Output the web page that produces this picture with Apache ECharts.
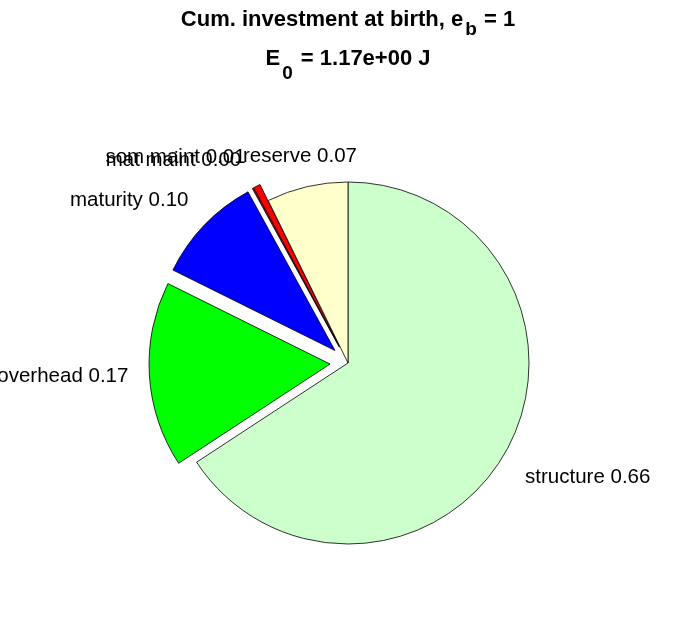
<!DOCTYPE html>
<html>
<head>
<meta charset="utf-8">
<script src="https://cdn.jsdelivr.net/npm/echarts@6/dist/echarts.min.js"></script>
<style>
html,body{margin:0;padding:0;background:#fff;}
#c{width:696px;height:618px;}
</style>
</head>
<body>
<div id="c"></div>
<script>
// Data (clockwise from 12 o'clock)
var categories = ['structure', 'overhead', 'maturity', 'mat maint', 'som maint', 'reserve'];
var values     = [0.659, 0.166, 0.097, 0.001, 0.0062, 0.0728];
var exploded   = [false, true, true, true, true, false];
var colors     = ['#CCFFCC', '#00FF00', '#0000FF', '#FF0000', '#FF0000', '#FFFFCC'];
var titleLine1 = ['Cum. investment at birth, e', 'b', ' = 1'];
var titleLine2 = ['E', '0', ' = 1.17e+00 J'];

var total = values.reduce(function(a, b){ return a + b; }, 0);
var midAngles = [];
var acc = 0;
for (var i = 0; i < values.length; i++) {
  midAngles.push((acc + values[i] / 2) / total * 2 * Math.PI);
  acc += values[i];
}

var data = categories.map(function(name, i){
  return {
    name: name,
    value: values[i],
    selected: exploded[i],
    itemStyle: { color: colors[i] }
  };
});

var chart = echarts.init(document.getElementById('c'), null, {renderer: 'canvas'});
var FONT = '"Liberation Sans", Arial, Helvetica, sans-serif';
chart.setOption({
  backgroundColor: '#ffffff',
  animation: false,
  title: {
    left: 'center',
    top: 0,
    padding: 0,
    text: '{m|' + titleLine1[0] + '}{s|' + titleLine1[1] + '}{m|' + titleLine1[2] + '}\n' +
          '{m|' + titleLine2[0] + '}{s2|' + titleLine2[1] + '}{m|' + titleLine2[2] + '}',
    textStyle: {
      rich: {
        m: { fontSize: 22, fontWeight: 'bold', fontFamily: FONT, color: '#000', lineHeight: 39 },
        s: { fontSize: 19, fontWeight: 'bold', fontFamily: FONT, color: '#000', lineHeight: 19, padding: [21, 1, 0, 2] },
        s2: { fontSize: 19, fontWeight: 'bold', fontFamily: FONT, color: '#000', lineHeight: 8, padding: [31, 2, 0, 2] }
      }
    }
  },
  series: [{
    type: 'pie',
    center: ['50%', 363],
    radius: 181,
    startAngle: 90,
    clockwise: true,
    selectedMode: 'multiple',
    selectedOffset: 18,
    avoidLabelOverlap: false,
    emphasis: { disabled: true },
    itemStyle: { borderColor: '#000', borderWidth: 0.8 },
    label: {
      show: true,
      position: 'outside',
      fontSize: 20.5,
      fontFamily: FONT,
      color: '#000',
      distanceToLabelLine: 0,
      formatter: function(p){ return p.name + ' ' + p.value.toFixed(2); }
    },
    labelLine: { show: false, length: 18, length2: 0 },
    labelLayout: function(p){
      var a = midAngles[p.dataIndex];
      var sx = Math.sin(a), sy = -Math.cos(a);
      var align = Math.abs(sx) < 0.3 ? 'center' : (sx < 0 ? 'right' : 'left');
      var va = Math.abs(sy) < 0.3 ? 'middle' : (sy < 0 ? 'bottom' : 'top');
      var dx = sx < 0 ? -3 : 2;
      var dy = va === 'top' ? 9 : (va === 'bottom' ? -2 : 0);
      return { align: align, verticalAlign: va, dx: dx, dy: dy };
    },
    data: data
  }]
});
</script>
</body>
</html>
